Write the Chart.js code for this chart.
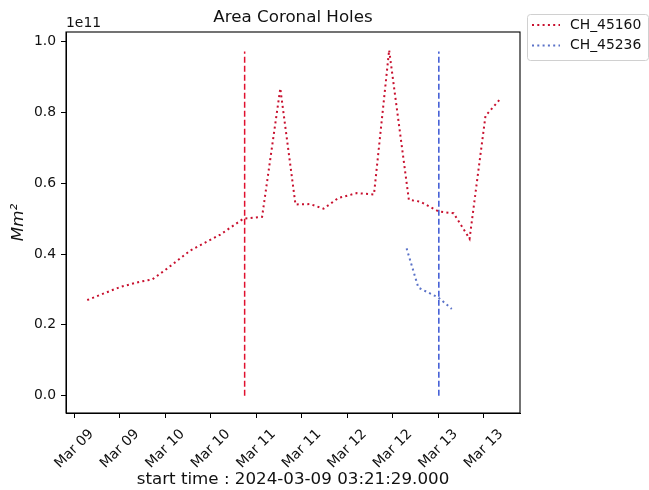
<!DOCTYPE html>
<html><head><meta charset="utf-8">
<script src="https://cdn.jsdelivr.net/npm/chart.js@4/dist/chart.umd.min.js"></script>
<style>html,body{margin:0;padding:0;background:#fff}#wrap{width:649px;height:490px;position:relative}</style>
</head><body><div id="wrap"><canvas id="c" width="649" height="490"></canvas></div>
<script>
// x values: hours since 2024-03-09 00:00
const tickHours = [0, 12, 24, 36, 48, 60, 72, 84, 96, 108];
const tickLabels = ['Mar 09','Mar 09','Mar 10','Mar 10','Mar 11','Mar 11','Mar 12','Mar 12','Mar 13','Mar 13'];
const yTicks = [0, 0.2e11, 0.4e11, 0.6e11, 0.8e11, 1.0e11];

const redHours = [3.4, 12.1, 17.4, 20.5, 24.0, 30.6, 38.5, 44.6, 49.5, 54.3, 58.3, 62.2, 65.7, 69.6, 74.5, 79.0, 83.0, 88.2, 91.2, 96.1, 100.0, 104.2, 108.4, 112.3];
const redArea = [2.70e10, 3.07e10, 3.22e10, 3.28e10, 3.55e10, 4.10e10, 4.55e10, 5.00e10, 5.05e10, 8.68e10, 5.40e10, 5.41e10, 5.28e10, 5.58e10, 5.72e10, 5.68e10, 9.76e10, 5.53e10, 5.48e10, 5.20e10, 5.15e10, 4.43e10, 7.90e10, 8.38e10];

const blueHours = [87.6, 90.7, 96.0, 99.5];
const blueArea = [4.16e10, 3.05e10, 2.77e10, 2.45e10];

const redMarkerHour = 44.9;
const blueMarkerHour = 96.1;
const markerTop = 0.972e11;

const seriesNames = ['CH_45160', 'CH_45236'];
const titleText = 'Area Coronal Holes';
const xTitle = 'start time : 2024-03-09 03:21:29.000';
const yTitle = 'Mm\u00B2';
const offsetText = '1e11';

const FONT = "'DejaVu Sans', sans-serif";
const RED_DOT = '#c8102e', RED_DASH = '#e0102e', BLUE_DOT = '#5a72c8', BLUE_DASH = '#3a56d4';

const pts = (xs, ys) => xs.map((x, i) => ({x: x, y: ys[i]}));

const extras = {
  id: 'extras',
  afterDraw(chart) {
    const ctx = chart.ctx, a = chart.chartArea;
    ctx.save();
    // frame
    ctx.strokeStyle = '#000'; ctx.lineWidth = 1.1; ctx.setLineDash([]);
    ctx.strokeRect(a.left, a.top, a.right - a.left, a.bottom - a.top);
    // title
    ctx.fillStyle = '#111';
    ctx.font = '16.7px ' + FONT;
    ctx.textAlign = 'center'; ctx.textBaseline = 'middle';
    ctx.fillText(titleText, (a.left + a.right) / 2, 18);
    // offset text
    ctx.font = '13.9px ' + FONT;
    ctx.textAlign = 'left';
    ctx.fillText(offsetText, a.left, 23);
    // legend
    const lx = 527, ly = 14, lw = 121, lh = 46;
    ctx.beginPath();
    ctx.roundRect(lx + 0.5, ly + 0.5, lw, lh, 3);
    ctx.fillStyle = 'rgba(255,255,255,0.8)'; ctx.fill();
    ctx.strokeStyle = '#d0d0d0'; ctx.lineWidth = 1; ctx.stroke();
    const cols = [RED_DOT, BLUE_DOT];
    seriesNames.forEach((n, i) => {
      const y = 25 + i * 20.5;
      ctx.beginPath();
      ctx.setLineDash([2, 3.3]);
      ctx.strokeStyle = cols[i]; ctx.lineWidth = 2;
      ctx.moveTo(532, y); ctx.lineTo(560, y); ctx.stroke();
      ctx.setLineDash([]);
      ctx.fillStyle = '#111';
      ctx.textAlign = 'left'; ctx.textBaseline = 'middle';
      ctx.fillText(n, 570, y);
    });
    ctx.restore();
  }
};

new Chart(document.getElementById('c'), {
  type: 'scatter',
  data: {
    datasets: [
      {label: seriesNames[0], data: pts(redHours, redArea), showLine: true, borderColor: RED_DOT, borderWidth: 2, borderDash: [2, 3.3], pointRadius: 0, tension: 0},
      {label: 'red marker', data: [{x: redMarkerHour, y: 0}, {x: redMarkerHour, y: markerTop}], showLine: true, borderColor: RED_DASH, borderWidth: 1.5, borderDash: [6, 3], pointRadius: 0},
      {label: seriesNames[1], data: pts(blueHours, blueArea), showLine: true, borderColor: BLUE_DOT, borderWidth: 2, borderDash: [2, 3.3], pointRadius: 0, tension: 0},
      {label: 'blue marker', data: [{x: blueMarkerHour, y: 0}, {x: blueMarkerHour, y: markerTop}], showLine: true, borderColor: BLUE_DASH, borderWidth: 1.5, borderDash: [6, 3], pointRadius: 0}
    ]
  },
  options: {
    responsive: false,
    animation: false,
    devicePixelRatio: 1,
    layout: {padding: {left: 0, right: 129, top: 32, bottom: 0}},
    plugins: {legend: {display: false}, tooltip: {enabled: false}, title: {display: false}},
    scales: {
      x: {
        type: 'linear', min: -2.2, max: 117.5,
        afterBuildTicks: s => { s.ticks = tickHours.map(v => ({value: v})); },
        afterFit: s => { s.height = 77; },
        ticks: {
          autoSkip: false, minRotation: 45, maxRotation: 45, labelOffset: 17, padding: 8,
          color: '#111', font: {family: FONT, size: 13.9},
          callback: v => tickLabels[tickHours.indexOf(v)]
        },
        grid: {drawOnChartArea: false, drawTicks: true, tickLength: 5, color: '#000', lineWidth: 1},
        border: {display: true, color: '#000', width: 1},
        title: {display: true, text: xTitle, color: '#111', font: {family: FONT, size: 16.7}, padding: {top: 0, bottom: 0}}
      },
      y: {
        type: 'linear', min: -0.049e11, max: 1.027e11,
        afterBuildTicks: s => { s.ticks = yTicks.map(v => ({value: v})); },
        afterFit: s => { s.width = 66; },
        ticks: {color: '#111', font: {family: FONT, size: 13.9}, padding: 5, callback: v => (v / 1e11).toFixed(1)},
        grid: {drawOnChartArea: false, drawTicks: true, tickLength: 5, color: '#000', lineWidth: 1},
        border: {display: true, color: '#000', width: 1},
        title: {display: true, text: yTitle, color: '#111', font: {family: FONT, size: 16.7, style: 'italic'}, padding: {top: 9, bottom: 0}}
      }
    }
  },
  plugins: [extras]
});
</script></body></html>
